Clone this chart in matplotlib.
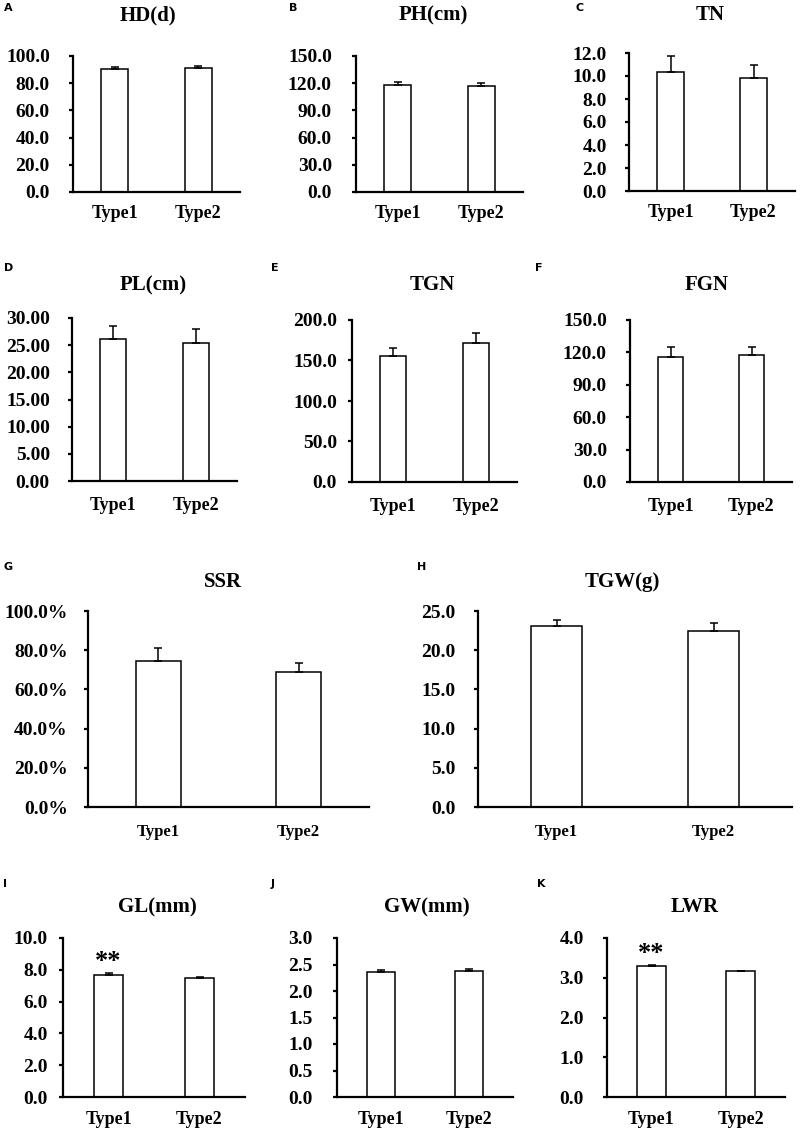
import numpy as np
import matplotlib
matplotlib.use('Agg')
import matplotlib.pyplot as plt
from matplotlib.ticker import FormatStrFormatter

plt.rcParams['font.family'] = 'Liberation Serif'
plt.rcParams['font.weight'] = 'bold'

# --- data ---
groups = ['Type1', 'Type2']
letters = ['A', 'B', 'C', 'D', 'E', 'F', 'G', 'H', 'I', 'J', 'K']
titles = ['HD(d)', 'PH(cm)', 'TN', 'PL(cm)', 'TGN', 'FGN', 'SSR', 'TGW(g)',
          'GL(mm)', 'GW(mm)', 'LWR']
type1_mean = [90.4, 117.6, 10.35, 26.1, 155.9, 116.0, 74.6, 23.1, 7.69, 2.35, 3.29]
type2_mean = [91.3, 116.8, 9.85, 25.4, 171.6, 117.3, 68.7, 22.4, 7.48, 2.38, 3.16]
type1_err = [1.4, 3.8, 1.35, 2.5, 9.0, 9.3, 6.3, 0.7, 0.10, 0.05, 0.03]
type2_err = [1.0, 3.2, 1.15, 2.6, 12.0, 8.0, 4.7, 1.1, 0.06, 0.03, 0.02]
y_max = [100, 150, 12, 30, 200, 150, 100, 25, 10, 3, 4]
y_step = [20, 30, 2, 5, 50, 30, 20, 5, 2, 0.5, 1]
y_fmt = ['%.1f', '%.1f', '%.1f', '%.2f', '%.1f', '%.1f', '%.1f%%', '%.1f',
         '%.1f', '%.1f', '%.1f']
signif = ['', '', '', '', '', '', '', '', '**', '', '**']

# --- layout (pixels on the 800x1138 canvas) ---
W, H = 800, 1138
# left, right, top, bottom of each axes
boxes = [(73, 240, 56, 192), (356, 523, 56, 192), (629, 795, 53, 191),
         (72, 237, 318, 481), (352, 517, 320, 482), (630, 792, 320, 482),
         (88, 369, 611, 807), (478, 792, 611, 807),
         (63, 245, 938, 1097), (337, 513, 938, 1097), (607, 785, 938, 1097)]
title_xy = [(148, 15), (433, 15), (710, 15), (153, 285), (432, 285), (707, 285),
            (223, 582), (622, 582), (157, 907), (427, 907), (695, 907)]
letter_xy = [(4, 8), (289, 8), (576, 8), (4, 268), (271, 268), (535, 268),
             (4, 567), (417, 567), (3, 884), (271, 884), (537, 884)]
# gap between y tick labels and the axis line, in pixels
ylab_gap = [22, 23, 21, 21, 14, 22, 19, 21, 14, 23, 22]
# gap between axis line and x tick labels, in pixels
xlab_gap = [13, 13, 13, 16, 16, 16, 17, 17, 14, 14, 14]

fig = plt.figure(figsize=(W / 100, H / 100), dpi=100)

for i in range(len(titles)):
    l, r, t, b = boxes[i]
    ax = fig.add_axes([l / W, 1 - b / H, (r - l) / W, (b - t) / H])
    x = np.arange(len(groups))
    means = [type1_mean[i], type2_mean[i]]
    errs = [type1_err[i], type2_err[i]]
    ax.bar(x, means, width=0.32, color='white', edgecolor='black', linewidth=1.1, zorder=2)
    ax.errorbar(x, means, yerr=[[0, 0], errs], fmt='none', ecolor='black',
                elinewidth=1.1, capsize=3, capthick=1.1, zorder=3)
    if signif[i]:
        ax.annotate(signif[i], (0, type1_mean[i] + type1_err[i]), xytext=(0, 0),
                    textcoords='offset points', ha='center', va='bottom',
                    fontsize=19, fontweight='bold')

    ax.set_xlim(-0.5, 1.5)
    ax.set_ylim(0, y_max[i])
    ax.set_yticks(np.arange(0, y_max[i] + y_step[i] / 2, y_step[i]))
    ax.yaxis.set_major_formatter(FormatStrFormatter(y_fmt[i]))
    ax.set_xticks(x)
    ax.set_xticklabels(groups)
    for s in ['top', 'right']:
        ax.spines[s].set_visible(False)
    for s in ['left', 'bottom']:
        ax.spines[s].set_linewidth(1.6)
    ax.tick_params(axis='y', direction='out', length=3, width=1.6, labelsize=14,
                   pad=(ylab_gap[i] - 3) * 0.72)
    xlab = 12 if i in (6, 7) else 13
    ax.tick_params(axis='x', length=0, labelsize=xlab, pad=xlab_gap[i] * 0.72)

    fig.text(title_xy[i][0] / W, 1 - title_xy[i][1] / H, titles[i], ha='center',
             va='center', fontsize=15, fontweight='bold')
    fig.text(letter_xy[i][0] / W, 1 - letter_xy[i][1] / H, letters[i], ha='left',
             va='center', fontsize=8, fontweight='bold', family='DejaVu Sans')

plt.savefig('out.png', dpi=100)
